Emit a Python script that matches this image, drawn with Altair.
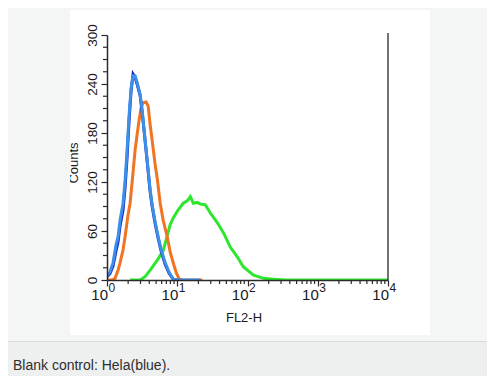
import altair as alt
import pandas as pd

# ---- data ----
blue_x = [1.00, 1.104, 1.218, 1.345, 1.436, 1.533, 1.693, 1.808, 1.931, 2.062, 2.203, 2.352, 2.512,
          2.683, 2.961, 3.162, 3.491, 3.853, 4.115, 4.394, 4.850, 5.354, 5.907, 6.741, 7.688, 8.768,
          10.0, 21.3]
blue_y = [5, 10, 21, 43, 53, 73, 94, 122, 159, 202, 235, 250, 250,
          242, 227, 208, 171, 135, 110, 92, 71, 53, 37, 21, 9, 1,
          0, 0]
navy_x = [1.00, 1.104, 1.218, 1.345, 1.436, 1.533, 1.693, 1.808, 1.931, 2.062, 2.203, 2.352, 2.512,
          2.683, 2.961, 3.162, 3.491, 3.853, 4.115, 4.394, 4.850, 5.354, 5.907, 6.741, 7.688, 8.768,
          10.0]
navy_y = [4, 8, 17, 36, 47, 66, 86, 113, 150, 195, 232, 252, 248,
          240, 226, 206, 170, 133, 108, 90, 69, 51, 35, 19, 8, 1,
          0]
orange_x = [1.0, 1.179, 1.301, 1.436, 1.533, 1.693, 1.808, 1.995, 2.132, 2.352, 2.512, 2.683, 2.866,
            3.060, 3.268, 3.607, 3.853, 4.115, 4.394, 4.850, 5.179, 5.718, 6.310, 7.197, 7.943,
            8.768, 9.677, 10.68, 11.79, 22.75]
orange_y = [0, 0, 2, 12, 21, 37, 53, 80, 94, 132, 159, 178, 196,
            211, 217, 218, 213, 190, 171, 141, 125, 94, 73, 53, 34,
            21, 9, 1, 0, 0]
green_x = [2.132, 2.961, 3.491, 4.115, 5.179, 6.310, 7.943, 8.768, 10.33, 12.18, 13.90, 15.34, 16.93,
           19.31, 21.30, 25.12, 29.61, 37.28, 45.41, 57.18, 71.97, 87.69, 121.8, 169.3, 235.2,
           349.1, 10000]
green_y = [0, 0, 4, 12, 24, 36, 68, 76, 86, 94, 97, 102, 94,
           95, 93, 92, 82, 70, 58, 40, 28, 16, 6, 2, 1,
           0, 0]

major_x = [1, 10, 100, 1000, 10000]
major_exp = ["0", "1", "2", "3", "4"]
minor_x = [2, 3, 4, 5, 6, 7, 8, 9,
           20, 30, 40, 50, 60, 70, 80, 90,
           200, 300, 400, 500, 600, 700, 800, 900,
           2000, 3000, 4000, 5000, 6000, 7000, 8000, 9000]
major_y = [0, 60, 120, 180, 240, 300]
minor_y = [15, 30, 45, 75, 90, 105, 135, 150, 165, 195, 210, 225, 255, 270, 285]

caption = "Blank control: Hela(blue)."
x_title = "FL2-H"
y_title = "Counts"

BG = "#f4f5f5"
FONT = "Liberation Sans"
AX = "#2a2a2a"
TXT = "#1a1a1a"

xscale = alt.Scale(type="log", domain=[1, 10000], nice=False)
yscale = alt.Scale(domain=[0, 300], nice=False, zero=False)

one = alt.Data(values=[{}])

# decorations
panel = alt.Chart(one).mark_rect(color="white").encode(
    x=alt.value(-37), x2=alt.value(323), y=alt.value(-25), y2=alt.value(300))
band = alt.Chart(one).mark_rect(color="#eeefef").encode(
    x=alt.value(-99), x2=alt.value(380), y=alt.value(307), y2=alt.value(341))
divider = alt.Chart(one).mark_rule(color="#dadada", strokeWidth=1).encode(
    x=alt.value(-99), x2=alt.value(380), y=alt.value(306.5))
cap_text = alt.Chart(one).mark_text(align="left", baseline="alphabetic", fontSize=14,
                                    font=FONT, color="#2e2e2e", text=caption).encode(
    x=alt.value(-94), y=alt.value(335))
ytitle = alt.Chart(one).mark_text(angle=270, align="center", baseline="alphabetic", fontSize=13,
                                  font=FONT, color=TXT, text=y_title).encode(
    x=alt.value(-29), y=alt.value(128))
clip = alt.Chart(one).mark_rect(color=BG).encode(
    x=alt.value(-99), x2=alt.value(-37), y=alt.value(-25), y2=alt.value(300))
xtitle = alt.Chart(one).mark_text(align="center", baseline="alphabetic", fontSize=13,
                                  font=FONT, color=TXT, text=x_title).encode(
    x=alt.value(137), y=alt.value(287))


def series(xs, ys, color):
    df = pd.DataFrame({"x": xs, "count": ys})
    return alt.Chart(df).mark_line(color=color, strokeWidth=3, clip=True).encode(
        x=alt.X("x:Q", scale=xscale),
        y=alt.Y("count:Q", scale=yscale),
        order=alt.Order("x:Q"),
    )


base_axes = alt.Chart(pd.DataFrame({"x": [1], "count": [0]})).mark_point(opacity=0).encode(
    x=alt.X("x:Q", scale=xscale,
            axis=alt.Axis(values=major_x, labels=False, title=None, tickSize=6, tickColor=AX,
                          domainColor=AX, domainWidth=1.5, tickWidth=1.2, grid=False, zindex=1)),
    y=alt.Y("count:Q", scale=yscale,
            axis=alt.Axis(values=major_y, title=None, labelAngle=270, labelAlign="center",
                          labelBaseline="alphabetic", labelPadding=5, labelFontSize=13.5,
                          labelFont=FONT, labelColor=TXT, tickSize=6, tickColor=AX,
                          tickWidth=1.2, domainColor=AX, domainWidth=1.5, grid=False, zindex=1)),
)

xminor = alt.Chart(pd.DataFrame({"x": minor_x})).mark_rule(color=AX, strokeWidth=1.2).encode(
    x=alt.X("x:Q", scale=xscale), y=alt.value(245), y2=alt.value(249))
yminor = alt.Chart(pd.DataFrame({"count": minor_y})).mark_rule(color=AX, strokeWidth=1.2).encode(
    y=alt.Y("count:Q", scale=yscale), x=alt.value(-4), x2=alt.value(0))
right_line = alt.Chart(pd.DataFrame({"x": [10000]})).mark_rule(color="#444444", strokeWidth=1.5).encode(
    x=alt.X("x:Q", scale=xscale), y=alt.value(-2), y2=alt.value(245))

lab_df = pd.DataFrame({"x": major_x, "e": major_exp})
lab10 = alt.Chart(lab_df).mark_text(align="right", baseline="alphabetic", fontSize=15, font=FONT,
                                    color=TXT, text="10", dx=1).encode(
    x=alt.X("x:Q", scale=xscale), y=alt.value(265))
labexp = alt.Chart(lab_df).mark_text(align="left", baseline="alphabetic", fontSize=12, font=FONT,
                                     color=TXT, dx=1.5).encode(
    x=alt.X("x:Q", scale=xscale), y=alt.value(257), text="e:N")

chart = alt.layer(
    band, divider, panel, cap_text, ytitle, clip, xtitle,
    base_axes,
    series(green_x, green_y, "#2ee62e"),
    series(orange_x, orange_y, "#f07422"),
    series(navy_x, navy_y, "#1428c0"),
    series(blue_x, blue_y, "#3d8fe8"),
    xminor, yminor, right_line, lab10, labexp,
).properties(
    width=281, height=245,
    autosize=alt.AutoSizeParams(type="none"),
    padding={"left": 99, "top": 27, "right": 99, "bottom": 96},
    background=BG,
).configure_view(stroke=None)

chart.save("out.html", embed_options={"renderer": "svg", "actions": False})
